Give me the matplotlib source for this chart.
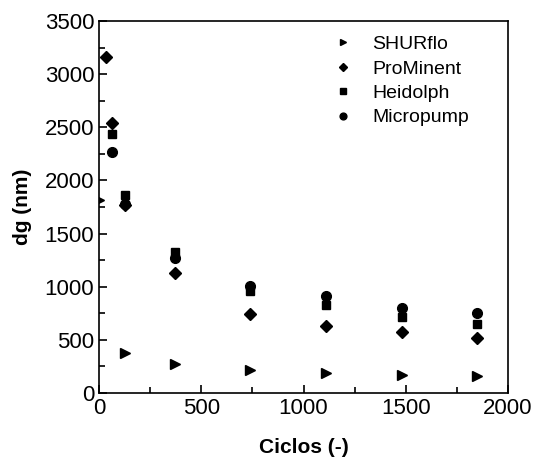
import matplotlib

matplotlib.use("Agg")
import matplotlib.pyplot as plt

plt.rcParams["font.family"] = ["Liberation Sans", "DejaVu Sans"]

# values
shurflo_x = [0, 125, 370, 740, 1110, 1480, 1850]
shurflo_y = [1820, 380, 270, 220, 190, 172, 163]

prominent_x = [33, 65, 125, 370, 740, 1110, 1480, 1850]
prominent_y = [3160, 2540, 1770, 1130, 745, 628, 572, 520]

heidolph_x = [65, 125, 370, 740, 1110, 1480, 1850]
heidolph_y = [2440, 1860, 1325, 962, 828, 715, 652]

micropump_x = [65, 125, 370, 740, 1110, 1480, 1850]
micropump_y = [2267, 1780, 1273, 1007, 909, 803, 750]

series = [
    ("SHURflo", shurflo_x, shurflo_y, ">", 7),
    ("ProMinent", prominent_x, prominent_y, "D", 6),
    ("Heidolph", heidolph_x, heidolph_y, "s", 6),
    ("Micropump", micropump_x, micropump_y, "o", 7),
]

fig = plt.figure(figsize=(5.33, 4.58), dpi=100)
ax = fig.add_axes([99 / 533, 1 - 393 / 458, 409 / 533, 372 / 458])

for label, xs, ys, marker, size in series:
    ax.plot(xs, ys, linestyle="none", marker=marker, markersize=size,
            color="black", label=label)

ax.set_xlim(0, 2000)
ax.set_ylim(0, 3500)
ax.set_xticks(range(0, 2001, 500))
ax.set_xticks(range(250, 2000, 500), minor=True)
ax.set_yticks(range(0, 3501, 500))
ax.set_yticks(range(250, 3500, 500), minor=True)
ax.tick_params(which="both", direction="in", top=False, right=False,
               labelsize=16, width=1.2)
ax.tick_params(which="major", length=6)
ax.tick_params(which="minor", length=4)
for spine in ax.spines.values():
    spine.set_linewidth(1.2)

ax.set_xlabel("Ciclos (-)", fontsize=15, fontweight="bold", labelpad=14)
ax.set_ylabel("dg (nm)", fontsize=15, fontweight="bold", labelpad=9)

ax.legend(loc="upper right", bbox_to_anchor=(0.948, 1.008), frameon=False,
          fontsize=14, handletextpad=0.5, labelspacing=0.35, markerscale=0.7)

fig.savefig("out.png", dpi=100)
